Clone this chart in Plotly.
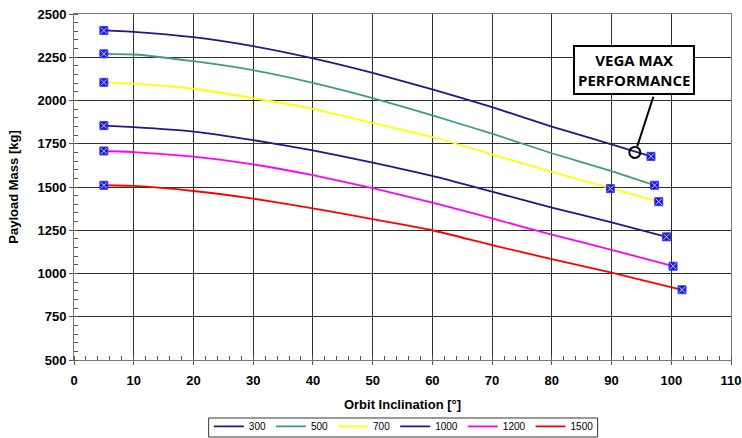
import plotly.graph_objects as go

# ---- data ----
inclination = [5, 10, 20, 30, 40, 50, 60, 70, 80, 90]
alt_labels = ["300", "500", "700", "1000", "1200", "1500"]
mass_300 = [2405, 2397, 2366, 2314, 2244, 2160, 2064, 1962, 1849, 1747]
mass_500 = [2270, 2266, 2227, 2175, 2102, 2014, 1914, 1808, 1695, 1592]
mass_700 = [2105, 2098, 2068, 2014, 1952, 1871, 1789, 1689, 1587, 1491]
mass_1000 = [1855, 1846, 1820, 1771, 1712, 1641, 1564, 1473, 1381, 1296]
mass_1200 = [1708, 1702, 1675, 1631, 1568, 1493, 1410, 1318, 1225, 1137]
mass_1500 = [1510, 1506, 1477, 1433, 1377, 1314, 1250, 1164, 1083, 1005]
# SSO end points (inclination, mass)
end_incl = [96.6, 97.2, 97.9, 99.2, 100.3, 101.8]
end_mass = [1677, 1510, 1415, 1212, 1042, 906]
# extra marked point on the 700 curve
extra_incl = [89.8]
extra_mass = [1491]
# Vega max performance point
vega_incl = [93.9]
vega_mass = [1700]

series = [mass_300, mass_500, mass_700, mass_1000, mass_1200, mass_1500]
colors = ["#1a1a8a", "#3f9f6f", "#ffff00", "#1a1a8a", "#ff00ff", "#ff0000"]

fig = go.Figure()
for lab, m, c, ei, em in zip(alt_labels, series, colors, end_incl, end_mass):
    fig.add_trace(go.Scatter(
        x=inclination + [ei], y=m + [em], mode="lines", name=lab,
        line=dict(color=c, width=1.8, shape="spline", smoothing=0.5),
    ))

mk_x = [inclination[0]] * 6 + end_incl + extra_incl
mk_y = [s[0] for s in series] + end_mass + extra_mass
fig.add_trace(go.Scatter(
    x=mk_x, y=mk_y, mode="markers", showlegend=False, hoverinfo="skip",
    marker=dict(symbol="square", size=8, color="#1515ff",
                line=dict(color="#3a3aff", width=1)),
))
fig.add_trace(go.Scatter(
    x=mk_x, y=mk_y, mode="markers", showlegend=False, hoverinfo="skip",
    marker=dict(symbol="x-thin-open", size=6, color="#d8d890",
                line=dict(color="#d8d890", width=1)),
))
fig.add_trace(go.Scatter(
    x=vega_incl, y=vega_mass, mode="markers", showlegend=False, hoverinfo="skip",
    marker=dict(symbol="circle-open", size=11, color="black",
                line=dict(color="black", width=2)),
))

# callout box and leader line
fig.add_annotation(
    x=93.7, y=2176, xref="x", yref="y", showarrow=False,
    text="<b>VEGA MAX<br>PERFORMANCE</b>",
    font=dict(family="Open Sans", size=15, color="black"),
    bordercolor="black", borderwidth=2, borderpad=3, bgcolor="white",
)
fig.add_shape(type="line", x0=97.0, y0=2022, x1=94.3, y1=1735,
              xref="x", yref="y", line=dict(color="black", width=2))
# legend frame
fig.add_shape(type="rect", xref="paper", yref="paper",
              x0=0.205, x1=0.797, y0=-0.2225, y1=-0.1676,
              line=dict(color="#333333", width=1), fillcolor="rgba(0,0,0,0)")

tick_font = dict(family="Liberation Sans", size=13, color="black", weight="bold")
title_font = dict(family="Liberation Sans", size=13, color="black", weight="bold")
fig.update_layout(
    width=742, height=438,
    margin=dict(l=74, r=11, t=14, b=78, autoexpand=False),
    paper_bgcolor="white", plot_bgcolor="white",
    font=dict(family="Liberation Sans", color="black"),
    legend=dict(
        orientation="h", x=0.502, xanchor="center", y=-0.150, yanchor="top",
        borderwidth=0, bgcolor="rgba(0,0,0,0)",
        font=dict(family="Liberation Sans", size=10, color="black"),
        itemwidth=30, tracegroupgap=0,
    ),
    showlegend=True,
)
fig.update_xaxes(
    range=[0, 110], dtick=10, tick0=0, automargin=False,
    showgrid=True, gridcolor="#303030", gridwidth=1,
    showline=True, linecolor="#777777", linewidth=1, mirror=True,
    ticks="outside", ticklen=4, tickcolor="#555555", ticklabelstandoff=4,
    ticklabeloverflow="allow",
    minor=dict(dtick=2, ticks="inside", ticklen=4, tickcolor="#555555", showgrid=False),
    tickfont=tick_font, zeroline=False,
    title=dict(text="Orbit Inclination [°]", font=title_font, standoff=13),
)
fig.update_yaxes(
    range=[500, 2500], dtick=250, tick0=500, automargin=False,
    showgrid=True, gridcolor="#303030", gridwidth=1,
    showline=True, linecolor="#777777", linewidth=1, mirror=True,
    ticks="outside", ticklen=4, tickcolor="#555555",
    ticklabeloverflow="allow",
    minor=dict(dtick=50, ticks="inside", ticklen=4, tickcolor="#555555", showgrid=False),
    tickfont=tick_font, zeroline=False,
    title=dict(text="Payload Mass [kg]", font=title_font, standoff=15),
)

# remove the browser's default 8px body margin so the figure fills the window exactly
fig.write_html(
    "out.html",
    config={"displayModeBar": False},
    post_script="document.body.style.margin='0';document.body.style.overflow='hidden';",
)
